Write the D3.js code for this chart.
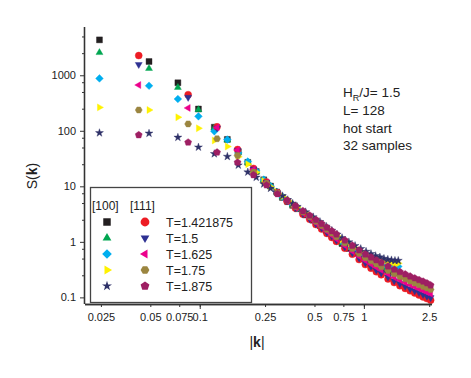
<!DOCTYPE html>
<meta charset="utf-8">
<body style="margin:0;background:#fff;">
<svg width="471" height="378"></svg>
<script src="https://d3js.org/d3.v7.min.js"></script>
<script>

// |k| values along the two lattice directions
var k100 = [0.0245, 0.0491, 0.0736, 0.0982, 0.1227, 0.1473, 0.1718, 0.1963, 0.2209, 0.2454,
            0.2700, 0.2945, 0.3191, 0.3436, 0.3682, 0.3927, 0.4418, 0.4909, 0.5400, 0.5890,
            0.6381, 0.6872, 0.7363, 0.8100, 0.8836, 0.9572, 1.0308, 1.1045, 1.1781, 1.2517,
            1.3254, 1.3990, 1.4726, 1.5463, 1.6199];
var k111 = [0.0425, 0.0850, 0.1275, 0.1700, 0.2126, 0.2551, 0.2976, 0.3401, 0.3826, 0.4251,
            0.4676, 0.5101, 0.5527, 0.5952, 0.6377, 0.6802, 0.7652, 0.8502, 0.9353, 1.0203,
            1.1053, 1.1903, 1.2754, 1.4029, 1.5304, 1.6580, 1.7855, 1.9130, 2.0406, 2.1681,
            2.2956, 2.4232, 2.5507];

// S(k), [100] direction
var s100_T1421875 = [4340, 1770, 733, 247, 116, 70, 42, 27, 18.5, 13.1, 10.1, 7.9, 6.3, 5.3, 4.55, 3.95,
  3.05, 2.45, 1.97, 1.6, 1.3, 1.08, 0.93, 0.76, 0.63, 0.54, 0.47, 0.42, 0.37, 0.34, 0.32, 0.30, 0.29, 0.285, 0.28];
var s100_T15 = [2560, 1325, 603, 240, 113, 68, 41, 27, 18.5, 13.0, 10.0, 7.9, 6.4, 5.4, 4.6, 4.0,
  3.1, 2.5, 2.0, 1.63, 1.34, 1.12, 0.95, 0.78, 0.65, 0.56, 0.49, 0.43, 0.39, 0.36, 0.34, 0.32, 0.31, 0.30, 0.31];
var s100_T1625 = [877, 647, 374, 182, 98, 69.5, 40, 28, 19, 13.2, 10.1, 7.95, 6.5, 5.5, 4.7, 4.1,
  3.25, 2.6, 2.1, 1.72, 1.42, 1.2, 1.02, 0.84, 0.71, 0.61, 0.54, 0.48, 0.44, 0.41, 0.39, 0.37, 0.36, 0.35, 0.36];
var s100_T175 = [264, 237, 175, 111, 67, 52, 34, 25, 18, 12.5, 9.8, 8.0, 6.6, 5.6, 4.8, 4.2,
  3.35, 2.7, 2.2, 1.8, 1.5, 1.27, 1.1, 0.91, 0.78, 0.68, 0.6, 0.54, 0.5, 0.47, 0.44, 0.42, 0.41, 0.40, 0.41];
var s100_T1875 = [91.6, 90, 76, 50.6, 38.5, 34.4, 24, 18, 14.5, 11.0, 9.2, 7.8, 6.7, 5.7, 4.9, 4.3,
  3.45, 2.8, 2.3, 1.9, 1.6, 1.36, 1.18, 0.99, 0.85, 0.75, 0.67, 0.61, 0.56, 0.53, 0.5, 0.48, 0.47, 0.46, 0.46];

// S(k), [111] direction
var s111_T1421875 = [2265, 447, 118, 46, 21, 12.0, 7.7, 5.4, 4.05, 3.15, 2.55, 2.05, 1.7, 1.42, 1.2, 1.02,
  0.77, 0.6, 0.48, 0.39, 0.335, 0.29, 0.255, 0.215, 0.185, 0.162, 0.145, 0.131, 0.12, 0.11, 0.102, 0.095, 0.089];
var s111_T15 = [1563, 400, 112, 44, 20.5, 11.8, 7.6, 5.45, 4.1, 3.2, 2.6, 2.12, 1.77, 1.48, 1.26, 1.07,
  0.81, 0.63, 0.51, 0.42, 0.36, 0.31, 0.275, 0.232, 0.2, 0.177, 0.158, 0.143, 0.132, 0.122, 0.113, 0.105, 0.099];
var s111_T1625 = [667, 258, 115, 45, 20, 11.6, 7.6, 5.5, 4.2, 3.3, 2.7, 2.2, 1.85, 1.55, 1.32, 1.13,
  0.86, 0.68, 0.55, 0.46, 0.40, 0.35, 0.31, 0.265, 0.23, 0.205, 0.185, 0.168, 0.155, 0.143, 0.133, 0.124, 0.116];
var s111_T175 = [237, 133, 72, 36, 18, 11.3, 7.6, 5.6, 4.35, 3.45, 2.85, 2.35, 1.98, 1.68, 1.44, 1.24,
  0.95, 0.76, 0.62, 0.52, 0.455, 0.4, 0.355, 0.305, 0.266, 0.238, 0.216, 0.197, 0.182, 0.169, 0.158, 0.148, 0.139];
var s111_T1875 = [84, 62, 41, 27, 16, 10.5, 7.3, 5.6, 4.45, 3.6, 3.0, 2.5, 2.12, 1.82, 1.57, 1.37,
  1.07, 0.86, 0.71, 0.6, 0.53, 0.47, 0.42, 0.365, 0.32, 0.288, 0.262, 0.24, 0.222, 0.207, 0.194, 0.181, 0.166];

var tempLabels = ["T=1.421875", "T=1.5", "T=1.625", "T=1.75", "T=1.875"];
var xTickValues = [0.025, 0.05, 0.075, 0.1, 0.25, 0.5, 0.75, 1, 2.5];
var xTickLabels = ["0.025", "0.05", "0.075", "0.1", "0.25", "0.5", "0.75", "1", "2.5"];
var yTickValues = [0.1, 1, 10, 100, 1000];
var yTickLabels = ["0.1", "1", "10", "100", "1000"];
var yMinorValues = [0.25, 0.5, 0.75, 2.5, 5, 7.5, 25, 50, 75, 250, 500, 750, 2500, 5000];
var notes = ["L= 128", "hot start", "32 samples"];

var series = [
  {k: k100, s: s100_T1421875, shape: "square",   color: "#231f20"},
  {k: k100, s: s100_T15,      shape: "triUp",    color: "#00a651"},
  {k: k100, s: s100_T1625,    shape: "diamond",  color: "#00aeef"},
  {k: k100, s: s100_T175,     shape: "triRight", color: "#fff200"},
  {k: k100, s: s100_T1875,    shape: "star",     color: "#2e3168"},
  {k: k111, s: s111_T1421875, shape: "circle",   color: "#ed1c24"},
  {k: k111, s: s111_T15,      shape: "triDown",  color: "#2e3192"},
  {k: k111, s: s111_T1625,    shape: "triLeft",  color: "#ec008c"},
  {k: k111, s: s111_T175,     shape: "hexagon",  color: "#9b8540"},
  {k: k111, s: s111_T1875,    shape: "pentagon", color: "#9e1f63"}
];

var font = "'Liberation Sans', Arial, sans-serif";
var svg = d3.select("svg");

var x = d3.scaleLog().domain([0.02, 2.6]).range([85, 432]);
var y = d3.scaleLog().domain([0.076, 7400]).range([304, 27]);

function polygon(n, r, rot) {
  var pts = [];
  for (var i = 0; i < n; i++) {
    var a = rot + i * 2 * Math.PI / n;
    pts.push([r * Math.cos(a), r * Math.sin(a)]);
  }
  return "M" + pts.map(function(p) { return p[0].toFixed(2) + "," + p[1].toFixed(2); }).join("L") + "Z";
}

// marker path for a given shape, r ~ half width
function markerPath(shape, r) {
  if (shape == "square") return d3.symbol(d3.symbolSquare, (2 * r * 0.85) * (2 * r * 0.85))();
  if (shape == "circle") return d3.symbol(d3.symbolCircle, Math.PI * r * r)();
  if (shape == "star") return d3.symbol(d3.symbolStar, r * r * 1.6)();
  if (shape == "diamond") return polygon(4, r * 1.1, 0);
  if (shape == "hexagon") return polygon(6, r * 1.0, 0);
  if (shape == "pentagon") return polygon(5, r * 1.05, -Math.PI / 2);
  if (shape == "triUp") return polygon(3, r * 1.15, -Math.PI / 2);
  if (shape == "triDown") return polygon(3, r * 1.15, Math.PI / 2);
  if (shape == "triRight") return polygon(3, r * 1.15, 0);
  if (shape == "triLeft") return polygon(3, r * 1.15, Math.PI);
}

// data points
var plot = svg.append("g");
series.forEach(function(ser) {
  var pts = ser.k.map(function(kv, i) { return [kv, ser.s[i]]; });
  plot.append("g").selectAll("path")
    .data(pts)
    .enter().append("path")
    .attr("d", markerPath(ser.shape, 3.5))
    .attr("transform", function(d) { return "translate(" + x(d[0]) + "," + y(d[1]) + ")"; })
    .attr("fill", ser.color)
    .attr("stroke", ser.color)
    .attr("stroke-width", 0.4);
});

// axes
var axisColor = "#333";
var gx = svg.append("g").attr("transform", "translate(0,304)");
gx.call(d3.axisBottom(x).tickValues(xTickValues).tickSize(3).tickPadding(6)
  .tickFormat(function(d, i) { return xTickLabels[i]; }));
gx.append("g").call(d3.axisBottom(x).tickValues([0.1, 1]).tickSize(5).tickFormat(""));

var gy = svg.append("g").attr("transform", "translate(85,0)");
gy.call(d3.axisLeft(y).tickValues(yTickValues).tickSize(5).tickPadding(4)
  .tickFormat(function(d, i) { return yTickLabels[i]; }));
gy.append("g").call(d3.axisLeft(y).tickValues(yMinorValues).tickSize(3).tickFormat(""));

svg.selectAll(".domain").attr("stroke", axisColor).attr("stroke-width", 1.3);
svg.selectAll(".tick line").attr("stroke", axisColor).attr("stroke-width", 1);
svg.selectAll(".tick text").attr("font-family", font).attr("font-size", 11).attr("fill", "#222");
gx.selectAll(".domain").attr("d", "M85,0.5H432");
gy.selectAll(".domain").attr("d", "M-0.5,27V304");

// axis titles
var yl = svg.append("text")
  .attr("transform", "translate(37,176)rotate(-90)")
  .attr("text-anchor", "middle")
  .attr("font-family", font).attr("font-size", 14).attr("fill", "#222");
yl.append("tspan").text("S(");
yl.append("tspan").attr("font-weight", "bold").text("k");
yl.append("tspan").text(")");

var xl = svg.append("text")
  .attr("x", 257).attr("y", 347)
  .attr("text-anchor", "middle")
  .attr("font-family", font).attr("font-size", 14).attr("fill", "#222");
xl.append("tspan").text("|");
xl.append("tspan").attr("font-weight", "bold").text("k");
xl.append("tspan").text("|");

// annotation
var ann = svg.append("g").attr("font-family", font).attr("font-size", 13.5).attr("fill", "#222");
var h = ann.append("text").attr("x", 343).attr("y", 97);
h.append("tspan").text("H");
h.append("tspan").attr("font-size", 9).attr("dy", 4).text("R");
h.append("tspan").attr("dy", -4).text("/J= 1.5");
notes.forEach(function(t, i) {
  ann.append("text").attr("x", 343).attr("y", 115 + i * 17.5).text(t);
});

// legend
var leg = svg.append("g");
leg.append("rect")
  .attr("x", 90.5).attr("y", 187.5).attr("width", 161).attr("height", 115)
  .attr("fill", "#fff").attr("stroke", "#444").attr("stroke-width", 1.3);
leg.append("text").attr("x", 92).attr("y", 210).attr("font-family", font).attr("font-size", 12).attr("fill", "#222").text("[100]");
leg.append("text").attr("x", 130).attr("y", 210).attr("font-family", font).attr("font-size", 12).attr("fill", "#222").text("[111]");
tempLabels.forEach(function(t, i) {
  var cy = 222 + i * 16;
  var a = series[i], b = series[i + 5];
  leg.append("path").attr("d", markerPath(a.shape, 4.4))
    .attr("transform", "translate(107," + cy + ")").attr("fill", a.color);
  leg.append("path").attr("d", markerPath(b.shape, 4.4))
    .attr("transform", "translate(145," + cy + ")").attr("fill", b.color);
  leg.append("text").attr("x", 166).attr("y", cy + 4.5)
    .attr("font-family", font).attr("font-size", 12.5).attr("fill", "#222").text(t);
});

</script>
</body>
